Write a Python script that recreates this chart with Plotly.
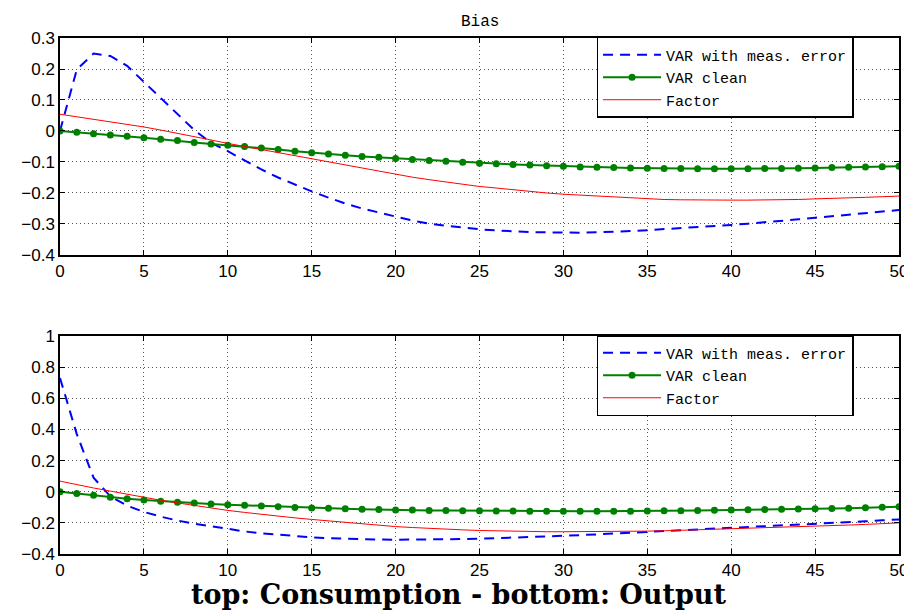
import plotly.graph_objects as go
from plotly.subplots import make_subplots

horizon = list(range(51))

top_var_meas = [0.0, 0.198, 0.250, 0.242, 0.210, 0.158, 0.106, 0.052, 0.003, -0.038,
                -0.065, -0.095, -0.124, -0.150, -0.173, -0.195, -0.215, -0.234, -0.250, -0.264,
                -0.276, -0.289, -0.299, -0.306, -0.312, -0.317, -0.321, -0.324, -0.326, -0.327,
                -0.328, -0.328, -0.327, -0.326, -0.323, -0.320, -0.317, -0.313, -0.310, -0.306,
                -0.303, -0.299, -0.295, -0.290, -0.285, -0.280, -0.275, -0.270, -0.265, -0.260,
                -0.255]
top_var_clean = [0.0, -0.004, -0.009, -0.013, -0.017, -0.022, -0.027, -0.031, -0.037, -0.042,
                 -0.046, -0.050, -0.055, -0.060, -0.065, -0.070, -0.074, -0.078, -0.082, -0.085,
                 -0.089, -0.092, -0.095, -0.098, -0.101, -0.104, -0.106, -0.108, -0.110, -0.112,
                 -0.114, -0.116, -0.117, -0.118, -0.119, -0.120, -0.121, -0.121, -0.122, -0.122,
                 -0.122, -0.122, -0.121, -0.121, -0.120, -0.119, -0.118, -0.117, -0.116, -0.115,
                 -0.114]
top_factor = [0.054, 0.046, 0.038, 0.030, 0.021, 0.013, 0.003, -0.007, -0.018, -0.029,
              -0.040, -0.050, -0.060, -0.070, -0.080, -0.090, -0.100, -0.110, -0.121, -0.131,
              -0.141, -0.149, -0.157, -0.165, -0.172, -0.179, -0.184, -0.190, -0.195, -0.200,
              -0.204, -0.207, -0.211, -0.214, -0.217, -0.219, -0.221, -0.222, -0.223, -0.223,
              -0.223, -0.223, -0.223, -0.222, -0.221, -0.219, -0.218, -0.216, -0.214, -0.212,
              -0.210]

bot_var_meas = [0.73, 0.37, 0.09, -0.03, -0.09, -0.13, -0.16, -0.185, -0.205, -0.222,
                -0.240, -0.255, -0.267, -0.277, -0.286, -0.293, -0.298, -0.302, -0.305, -0.307,
                -0.308, -0.308, -0.308, -0.306, -0.304, -0.302, -0.299, -0.296, -0.292, -0.288,
                -0.283, -0.279, -0.274, -0.268, -0.262, -0.256, -0.252, -0.248, -0.242, -0.237,
                -0.232, -0.227, -0.223, -0.218, -0.214, -0.209, -0.203, -0.197, -0.190, -0.184,
                -0.178]
bot_var_clean = [0.0, -0.012, -0.023, -0.035, -0.045, -0.054, -0.061, -0.068, -0.073, -0.079,
                 -0.083, -0.087, -0.091, -0.096, -0.101, -0.105, -0.107, -0.110, -0.112, -0.115,
                 -0.117, -0.118, -0.120, -0.121, -0.122, -0.123, -0.124, -0.124, -0.125, -0.125,
                 -0.125, -0.125, -0.125, -0.125, -0.125, -0.124, -0.123, -0.122, -0.121, -0.119,
                 -0.118, -0.116, -0.115, -0.113, -0.111, -0.110, -0.108, -0.106, -0.103, -0.100,
                 -0.097]
bot_factor = [0.068, 0.045, 0.024, 0.004, -0.017, -0.037, -0.055, -0.072, -0.089, -0.105,
              -0.120, -0.133, -0.146, -0.157, -0.168, -0.178, -0.188, -0.198, -0.207, -0.216,
              -0.224, -0.230, -0.236, -0.241, -0.245, -0.249, -0.252, -0.254, -0.256, -0.257,
              -0.257, -0.257, -0.257, -0.256, -0.255, -0.253, -0.251, -0.248, -0.245, -0.242,
              -0.239, -0.236, -0.232, -0.229, -0.225, -0.222, -0.218, -0.214, -0.210, -0.205,
              -0.200]

series_names = ["VAR with meas. error", "VAR clean", "Factor"]
x_ticks = list(range(0, 51, 5))
top_y_ticks = [0.3, 0.2, 0.1, 0, -0.1, -0.2, -0.3, -0.4]
bot_y_ticks = [1, 0.8, 0.6, 0.4, 0.2, 0, -0.2, -0.4]
title_text = "Bias"
caption_text = "top: Consumption - bottom: Output"

fig = make_subplots(rows=2, cols=1, vertical_spacing=0.157)

panels = [
    (1, top_var_meas, top_var_clean, top_factor, "legend"),
    (2, bot_var_meas, bot_var_clean, bot_factor, "legend2"),
]
for row, meas, clean, fac, leg in panels:
    fig.add_trace(go.Scatter(x=horizon, y=meas, mode="lines", name=series_names[0],
                             line=dict(color="#0000ff", width=2, dash="10px,7px"),
                             legend=leg), row=row, col=1)
    fig.add_trace(go.Scatter(x=horizon, y=clean, mode="lines+markers", name=series_names[1],
                             line=dict(color="#008000", width=2),
                             marker=dict(color="#008000", size=7, symbol="circle"),
                             legend=leg), row=row, col=1)
    fig.add_trace(go.Scatter(x=horizon, y=fac, mode="lines", name=series_names[2],
                             line=dict(color="#ff0000", width=1),
                             legend=leg), row=row, col=1)

axis_common = dict(
    showline=True, linecolor="black", linewidth=1.5, mirror="ticks",
    ticks="inside", ticklen=5, tickwidth=1, tickcolor="black",
    showgrid=True, gridcolor="#555555", griddash="1px,3px", gridwidth=1,
    zeroline=False,
    tickfont=dict(family="Liberation Sans, Arial, sans-serif", size=17, color="black"),
)
fig.update_xaxes(range=[0, 50], tickvals=x_ticks, **axis_common)
fig.update_yaxes(**axis_common)
fig.update_yaxes(range=[-0.4, 0.3], tickvals=top_y_ticks, row=1, col=1)
fig.update_yaxes(range=[-0.4, 1.0], tickvals=bot_y_ticks, row=2, col=1)

fig.update_layout(
    xaxis=dict(domain=[0, 1]),
    yaxis=dict(domain=[0.5795, 1.0]),
    yaxis2=dict(domain=[0.0, 0.4225]),
)

legend_common = dict(
    bgcolor="white", bordercolor="black", borderwidth=1.5,
    font=dict(family="Liberation Mono, Courier New, monospace", size=15, color="black"),
    xanchor="left", yanchor="top", tracegroupgap=0, itemwidth=58,
)
fig.update_layout(
    width=912, height=614,
    margin=dict(l=52, r=14, t=30, b=68),
    paper_bgcolor="white", plot_bgcolor="white",
    showlegend=True,
    legend=dict(x=0.6395, y=1.002, **legend_common),
    legend2=dict(x=0.6395, y=0.4244, **legend_common),
    annotations=[
        dict(text=title_text, x=0.5, y=1.031, xref="paper", yref="paper",
             xanchor="center", yanchor="middle", showarrow=False,
             font=dict(family="Liberation Mono, Courier New, monospace", size=16, color="black")),
        dict(text="<b>" + caption_text + "</b>", x=0.475, y=-0.078, xref="paper", yref="paper",
             xanchor="center", yanchor="middle", showarrow=False,
             font=dict(family="DejaVu Serif, Liberation Serif, serif", size=27, color="black")),
    ],
)

fig.write_html("out.html")
